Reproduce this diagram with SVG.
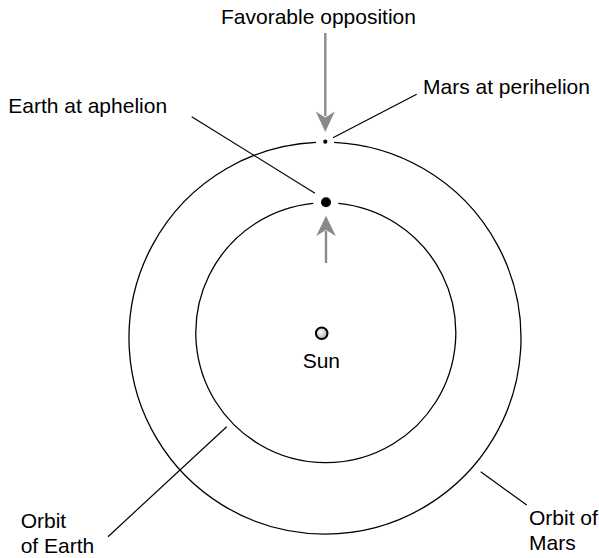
<svg xmlns="http://www.w3.org/2000/svg" width="599" height="558" viewBox="0 0 599 558">
<style>
.lbl{font-family:"Liberation Sans",Arial,sans-serif;font-size:21px;fill:#000}
.orbit{fill:none;stroke:#000;stroke-width:1.3}
.lead{stroke:#000;stroke-width:1.2;fill:none}
.arr{stroke:#8a8a8a;stroke-width:2.4;fill:none}
.head{fill:#8a8a8a}
</style>
<defs>
<radialGradient id="sunG" cx="0.4" cy="0.4" r="0.6">
<stop offset="0" stop-color="#ffffff"/>
<stop offset="1" stop-color="#b0b0b0"/>
</radialGradient>
</defs>
<rect width="599" height="558" fill="#fff"/>
<g id="orbit-mars">
<path class="orbit" d="M316,142.3 A196,196 0 1 0 334,142.3"/>
</g>
<g id="orbit-earth">
<path class="orbit" d="M313.3,203.3 A130,130 0 1 0 338.3,203.3"/>
</g>
<g id="sun">
<circle cx="321.7" cy="333.3" r="5.8" fill="url(#sunG)" stroke="#000" stroke-width="2"/>
<text class="lbl" x="302.7" y="368">Sun</text>
</g>
<g id="mars">
<circle cx="325.3" cy="141.7" r="2.1" fill="#000"/>
</g>
<g id="earth">
<circle cx="326" cy="202.3" r="5" fill="#000"/>
</g>
<g id="label-favorable">
<text class="lbl" x="221" y="24">Favorable opposition</text>
</g>
<g id="label-mars-perihelion">
<text class="lbl" x="423" y="93.5">Mars at perihelion</text>
</g>
<g id="label-earth-aphelion">
<text class="lbl" x="8.3" y="112.7">Earth at aphelion</text>
</g>
<g id="label-orbit-earth">
<text class="lbl" x="20.7" y="528">Orbit</text>
<text class="lbl" x="20.7" y="553">of Earth</text>
</g>
<g id="label-orbit-mars">
<text class="lbl" x="529" y="525">Orbit of</text>
<text class="lbl" x="529" y="550">Mars</text>
</g>
<g id="connectors">
<line class="arr" x1="325.3" y1="33" x2="325.3" y2="116"/>
<path class="head" d="M325.3,132 L334.8,111.5 L325.3,117.5 L315.8,111.5 Z"/>
<line class="arr" x1="326" y1="263" x2="326" y2="231"/>
<path class="head" d="M326,215.7 L335.8,236 L326,230 L316.2,236 Z"/>
<line class="lead" x1="333" y1="137.7" x2="416.7" y2="94.3"/>
<line class="lead" x1="191.7" y1="116.7" x2="315" y2="193.3"/>
<line class="lead" x1="108" y1="536.7" x2="226.7" y2="426.7"/>
<line class="lead" x1="480.7" y1="471.7" x2="526.7" y2="505"/>
</g>
</svg>
